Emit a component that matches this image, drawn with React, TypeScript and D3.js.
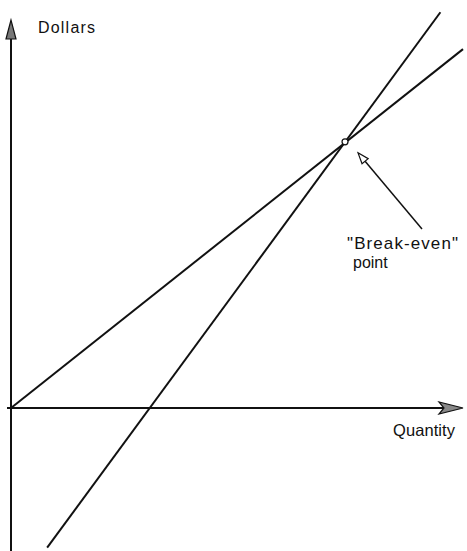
import React from "react";
import * as d3 from "d3";

const W = 467;
const H = 551;

// Line endpoints (quantity, dollars)
const revenueQuantity = [0, 100];
const revenueDollars = [0, 92.5];
const costQuantity = [8, 95];
const costDollars = [-36, 102];
const breakEvenQuantity = [73.9];
const breakEvenDollars = [68.6];

const axisLabels = ["Dollars", "Quantity"];
const annotationLines = ['"Break-even"', "point"];

export default function App() {
  const x = d3.scaleLinear().domain([0, 100]).range([11, 463]);
  const y = d3.scaleLinear().domain([0, 100]).range([408, 20]);

  const line = d3
    .line<[number, number]>()
    .x((d) => x(d[0]))
    .y((d) => y(d[1]));

  const revenue: [number, number][] = revenueQuantity.map((q, i) => [q, revenueDollars[i]]);
  const cost: [number, number][] = costQuantity.map((q, i) => [q, costDollars[i]]);

  const bx = x(breakEvenQuantity[0]);
  const by = y(breakEvenDollars[0]);

  // annotation arrow
  const ax0 = 422, ay0 = 229;
  const ax1 = bx + 13, ay1 = by + 11;
  const ang = Math.atan2(ay1 - ay0, ax1 - ax0);
  const headLen = 11, headW = 4;
  const hx = ax1 - headLen * Math.cos(ang);
  const hy = ay1 - headLen * Math.sin(ang);
  const px = -Math.sin(ang), py = Math.cos(ang);

  const font = "'Liberation Sans', Arial, Helvetica, sans-serif";
  const x0 = x(0);
  const yAxisY = y(0);

  return (
    <div style={{ position: "absolute", left: 0, top: 0 }}>
      <svg width={W} height={H} viewBox={`0 0 ${W} ${H}`} style={{ display: "block", background: "#fff" }}>
        {/* Y axis */}
        <line x1={x0} y1={H} x2={x0} y2={y(100) + 16} stroke="#111" strokeWidth={2} />
        <polygon
          points={`${x0},${y(100)} ${x0 - 5},${y(100) + 19} ${x0 + 5},${y(100) + 19}`}
          fill="#777"
          stroke="#111"
          strokeWidth={1.2}
        />
        {/* X axis */}
        <line x1={7} y1={yAxisY} x2={x(100) - 18} y2={yAxisY} stroke="#111" strokeWidth={2} />
        <polygon
          points={`${x(100)},${yAxisY} ${x(100) - 24},${yAxisY - 6} ${x(100) - 19},${yAxisY} ${x(100) - 24},${yAxisY + 6}`}
          fill="#888"
          stroke="#111"
          strokeWidth={1.2}
        />
        {/* lines */}
        <path d={line(revenue) || ""} fill="none" stroke="#111" strokeWidth={2} />
        <path d={line(cost) || ""} fill="none" stroke="#111" strokeWidth={2} />
        {/* break-even point */}
        <circle cx={bx} cy={by} r={3} fill="#fff" stroke="#111" strokeWidth={1.2} />
        {/* annotation arrow */}
        <line x1={ax0} y1={ay0} x2={hx} y2={hy} stroke="#111" strokeWidth={1.5} />
        <polygon
          points={`${ax1},${ay1} ${hx + px * headW},${hy + py * headW} ${hx - px * headW},${hy - py * headW}`}
          fill="#fff"
          stroke="#111"
          strokeWidth={1.2}
        />
        {/* texts */}
        <text x={38} y={33} fontFamily={font} fontSize={16} fill="#111" textLength={57} lengthAdjust="spacing">
          {axisLabels[0]}
        </text>
        <text x={393} y={436} fontFamily={font} fontSize={16.5} fill="#111" textLength={62} lengthAdjust="spacing">
          {axisLabels[1]}
        </text>
        <text x={347} y={249} fontFamily={font} fontSize={17} fill="#111" textLength={111} lengthAdjust="spacing">
          {annotationLines[0]}
        </text>
        <text x={353} y={268} fontFamily={font} fontSize={16} fill="#111">
          {annotationLines[1]}
        </text>
      </svg>
    </div>
  );
}
